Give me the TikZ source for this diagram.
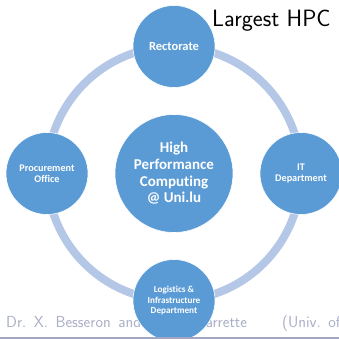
\documentclass[tikz,border=0pt]{standalone}
\usepackage{fontspec}
\usepackage{tikz}
\newfontfamily\calibri[Ligatures=NoCommon]{Carlito}
\definecolor{unitblue}{HTML}{5B9BD5}
\definecolor{ringblue}{HTML}{B4C7E7}
\definecolor{footgray}{HTML}{AAAEC6}
\definecolor{footline}{HTML}{A0A6C4}
\newcommand{\footspacing}{\spaceskip=7.5pt\relax\xspaceskip=7.5pt\relax}
\tikzstyle{unit}=[circle,fill=unitblue,draw=white,line width=0.6pt,minimum size=82pt,inner sep=0pt,text=white,align=center]
\tikzstyle{hub}=[unit,minimum size=118pt,font=\calibri\bfseries\fontsize{15}{16.7}\selectfont]
\tikzstyle{foot}=[anchor=base west,inner sep=0pt,text=footgray,font=\sffamily\fontsize{16}{19}\selectfont]

\begin{document}
\begin{tikzpicture}[x=1pt,y=1pt]
  \useasboundingbox (0,0) rectangle (339,339);
  \clip (0,0) rectangle (339,339);
  % slide title and footer
  \node[anchor=base west,inner sep=0pt,font=\sffamily\fontsize{23.6}{28}\selectfont] (title) at (212,312) {Largest HPC};
  \node[foot] (authors) at (6,12) {\footspacing Dr. X. Besseron and Dr. S. Varrette};
  \node[foot] (univ) at (282,12) {\footspacing (Univ. of};
  % ring behind the units
  \coordinate (mid) at (174,165.5);
  \draw[ringblue,line width=8pt] (mid) circle (127);
  \node[hub] (hpc) at (mid) {High\\Performance\\Computing\\@ Uni.lu};
  \foreach \name/\angle/\fs/\ls/\text in {rect/90/12.5/14/Rectorate,
                                          it/0/10.2/11.3/{IT\\Department},
                                          logi/-90/9.2/10.4/{Logistics \&\\Infrastructure\\Department},
                                          proc/180/10.2/11.3/{Procurement\\Office}}
    \node[unit,xshift=174pt,yshift=165.5pt,font=\calibri\bfseries\fontsize{\fs}{\ls}\selectfont] (\name) at (\angle:127) {\text};
  \fill[footline] (0,0) rectangle (339,2);
\end{tikzpicture}
\end{document}
